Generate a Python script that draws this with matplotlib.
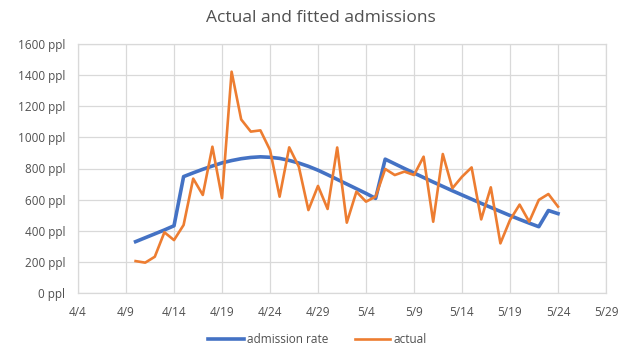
import datetime as dt
import matplotlib
matplotlib.use("Agg")
import matplotlib.pyplot as plt

plt.rcParams['font.family'] = ['Open Sans', 'DejaVu Sans']

start_date = dt.date(2020, 4, 10)

# fitted admission rate, one value per day from 4/10
admission_rate = [330, 355, 380, 405, 432,
                  748, 772, 795, 816, 836, 851, 863, 871, 875, 872,
                  865, 852, 835, 814, 789, 760, 730, 700, 670, 640, 608,
                  860, 830, 800, 771, 742, 713, 685, 657, 630, 603, 576,
                  550, 524, 498, 473, 449, 426, 530, 510]

# actual admissions, one value per day from 4/10
actual = [205, 195, 233, 390, 340, 437, 735, 630, 940, 610,
          1422, 1115, 1037, 1045, 919, 619, 936, 812, 533, 688,
          540, 935, 452, 651, 587, 619, 797, 758, 780, 758,
          876, 458, 893, 673, 747, 807, 473, 679, 319, 469,
          568, 458, 598, 636, 555]

y_ticks = [0, 200, 400, 600, 800, 1000, 1200, 1400, 1600]
x_tick_start = dt.date(2020, 4, 4)
x_tick_end = dt.date(2020, 5, 29)

dates_rate = [start_date + dt.timedelta(days=i) for i in range(len(admission_rate))]
dates_actual = [start_date + dt.timedelta(days=i) for i in range(len(actual))]

fig = plt.figure(figsize=(6.35, 3.49), dpi=100)
ax = fig.add_axes([78 / 635, 1 - 293 / 349, (606 - 78) / 635, (293 - 44) / 349])

grid_c = '#d9d9d9'
text_c = '#505050'

ax.plot(dates_rate, admission_rate, color='#4472C4', lw=2.6, label='admission rate',
        solid_joinstyle='round', zorder=3)
ax.plot(dates_actual, actual, color='#ED7D31', lw=1.9, label='actual',
        solid_joinstyle='round', zorder=4)

ax.set_xlim(x_tick_start, x_tick_end)
ax.set_ylim(0, 1600)
ax.set_yticks(y_ticks)
ax.set_yticklabels([f'{v} ppl' for v in y_ticks])
xt = [x_tick_start + dt.timedelta(days=5 * k) for k in range(12)]
ax.set_xticks(xt)
ax.set_xticklabels([f'{d.month}/{d.day}' for d in xt])

ax.grid(True, color=grid_c, lw=0.9)
ax.set_axisbelow(True)
for s in ax.spines.values():
    s.set_color(grid_c)
    s.set_linewidth(0.9)
ax.tick_params(axis='both', length=0, colors=text_c, labelsize=8.5)
ax.tick_params(axis='x', pad=9)
ax.tick_params(axis='y', pad=9)

fig.suptitle('Actual and fitted admissions', x=0.505, y=0.972, fontsize=12.5, color=text_c)

leg = fig.legend(loc='center', bbox_to_anchor=(0.5, 0.028), ncol=2, frameon=False,
                 fontsize=8.5, handlelength=3.0, columnspacing=2.2, handletextpad=0.3)
for t in leg.get_texts():
    t.set_color(text_c)

fig.savefig('out.png', dpi=100)
